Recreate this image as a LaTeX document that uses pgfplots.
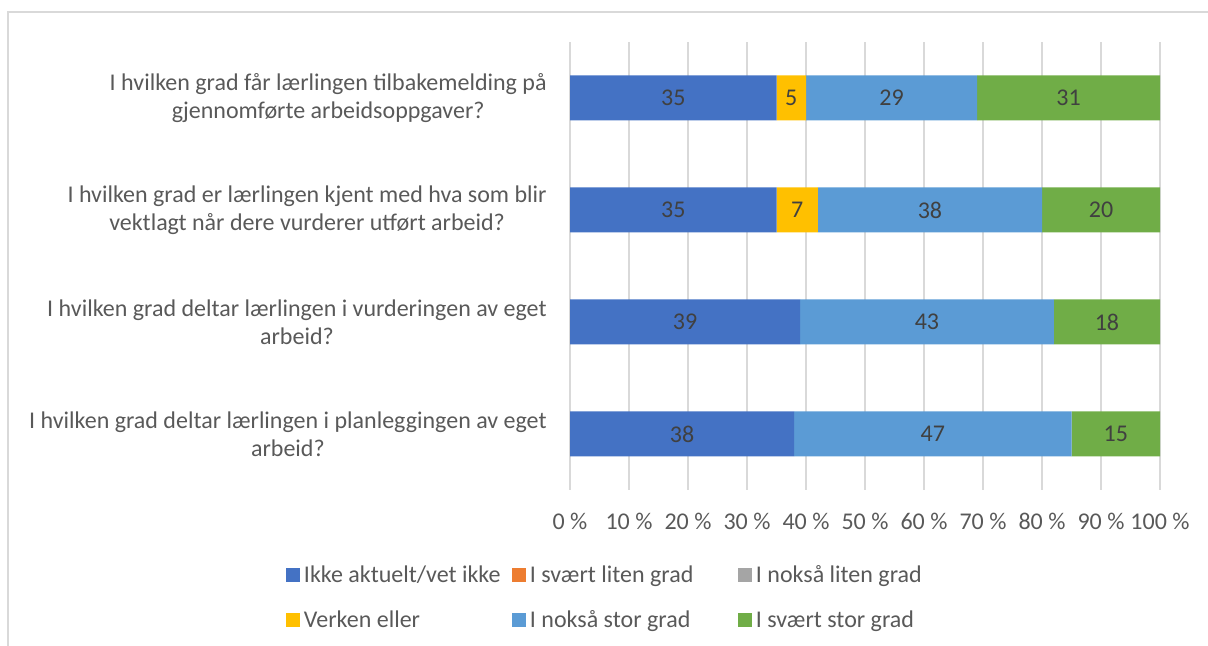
\documentclass[border=0pt]{standalone}
\usepackage{pgfplots}
\pgfplotsset{compat=1.18}
\usepackage{fontspec}
\setmainfont{Carlito}
\definecolor{cA}{HTML}{4472C4}
\definecolor{cB}{HTML}{ED7D31}
\definecolor{cC}{HTML}{A5A5A5}
\definecolor{cD}{HTML}{FFC000}
\definecolor{cE}{HTML}{5B9BD5}
\definecolor{cF}{HTML}{70AD47}
\definecolor{gridgray}{HTML}{D9D9D9}
\definecolor{labelgray}{HTML}{595959}
\definecolor{datagray}{HTML}{404040}
\newcommand{\lf}{\fontsize{12}{14}\selectfont}
\newcommand{\st}{\rule[-3pt]{0pt}{12pt}}
\begin{document}
\begin{tikzpicture}
\path[use as bounding box] (0,0) rectangle (604pt,323pt);
\draw[gridgray, line width=0.75pt] (4pt,0pt) -- (4pt,317pt) -- (604pt,317pt);
\begin{axis}[
  at={(285pt,78pt)}, anchor=south west,
  scale only axis, width=295pt, height=224pt,
  xbar stacked, bar width=22.5pt,
  xmin=0, xmax=100, ymin=-0.5, ymax=3.5,
  ytick={0,1,2,3},
  yticklabels={
    {I hvilken grad deltar lærlingen i planleggingen av eget\\arbeid?},
    {I hvilken grad deltar lærlingen i vurderingen av eget\\arbeid?},
    {I hvilken grad er lærlingen kjent med hva som blir\\vektlagt når dere vurderer utført arbeid?},
    {I hvilken grad får lærlingen tilbakemelding på\\gjennomførte arbeidsoppgaver?}},
  yticklabel style={align=center, font=\lf, text=labelgray, anchor=east, inner sep=0pt, xshift=-11.5pt},
  xtick={0,10,...,100},
  xticklabels={0 \%,10 \%,20 \%,30 \%,40 \%,50 \%,60 \%,70 \%,80 \%,90 \%,100 \%},
  xticklabel style={font=\lf, text=labelgray, anchor=base, inner sep=0pt, yshift=-20pt},
  xmajorgrids, major grid style={draw=gridgray, line width=0.75pt},
  axis line style={draw=none}, tick style={draw=none},
  legend columns=3,
  legend style={at={(axis description cs:-0.4814,-0.1652)}, anchor=north west,
    draw=none, fill=none, inner sep=0pt, outer sep=0pt,
    font=\lf, text=labelgray, nodes={inner sep=0pt},
    /tikz/every odd column/.append style={column sep=2pt},
    /tikz/row sep=12pt},
  legend image code/.code={\fill[#1] (0pt,-3.5pt) rectangle (7pt,3.5pt);},
]
\addplot[fill=cA, draw=none] coordinates {(38,0) (39,1) (35,2) (35,3)};
\addlegendentry{\makebox[104pt][l]{\st Ikke aktuelt/vet ikke}}
\addplot[fill=cB, draw=none] coordinates {(0,0) (0,1) (0,2) (0,3)};
\addlegendentry{\makebox[104pt][l]{\st I svært liten grad}}
\addplot[fill=cC, draw=none] coordinates {(0,0) (0,1) (0,2) (0,3)};
\addlegendentry{\makebox[104pt][l]{\st I nokså liten grad}}
\addplot[fill=cD, draw=none] coordinates {(0,0) (0,1) (7,2) (5,3)};
\addlegendentry{\makebox[104pt][l]{\st Verken eller}}
\addplot[fill=cE, draw=none] coordinates {(47,0) (43,1) (38,2) (29,3)};
\addlegendentry{\makebox[104pt][l]{\st I nokså stor grad}}
\addplot[fill=cF, draw=none] coordinates {(15,0) (18,1) (20,2) (31,3)};
\addlegendentry{\makebox[104pt][l]{\st I svært stor grad}}
\end{axis}
\begin{axis}[
  at={(285pt,78pt)}, anchor=south west,
  scale only axis, width=295pt, height=224pt,
  xmin=0, xmax=100, ymin=-0.5, ymax=3.5,
  hide axis,
]
\addplot[draw=none, mark=none, nodes near coords, point meta=explicit symbolic,
  every node near coord/.append style={anchor=center, font=\lf, text=datagray}]
  table[meta=lab] {
x y lab
17.5 3 35
37.5 3 5
54.5 3 29
84.5 3 31
17.5 2 35
38.5 2 7
61 2 38
90 2 20
19.5 1 39
60.5 1 43
91 1 18
19 0 38
61.5 0 47
92.5 0 15
};
\end{axis}
\end{tikzpicture}
\end{document}
